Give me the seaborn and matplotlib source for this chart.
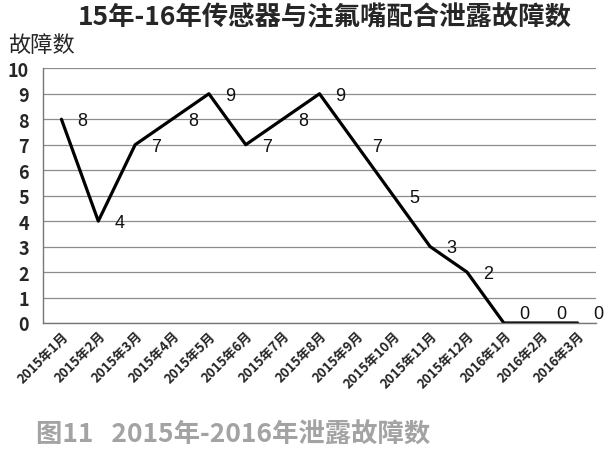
import matplotlib.pyplot as plt
import matplotlib.ticker as mticker
import seaborn as sns
import pandas as pd
import numpy as np

months = [
    "2015年1月", "2015年2月", "2015年3月", "2015年4月", "2015年5月",
    "2015年6月", "2015年7月", "2015年8月", "2015年9月", "2015年10月",
    "2015年11月", "2015年12月", "2016年1月", "2016年2月", "2016年3月",
]
faults = [8, 4, 7, 8, 9, 7, 8, 9, 7, 5, 3, 2, 0, 0, 0]

sns.set_style("white")
plt.rcParams["font.family"] = ["Noto Sans CJK SC", "DejaVu Sans"]

df = pd.DataFrame({"idx": np.arange(len(months)), "month": months, "faults": faults})

fig = plt.figure(figsize=(6.09, 4.56), dpi=100)
ax = fig.add_axes([43 / 609, 1 - 324 / 456, (596 - 43) / 609, (324 - 69.3) / 456])

sns.lineplot(data=df, x="idx", y="faults", color="black", linewidth=2.3, ax=ax)

# 数据标签
for i, v in zip(df["idx"], df["faults"]):
    dy = 7 if v == 0 else -1
    ax.annotate(str(v), (i, v), xytext=(15, dy), textcoords="offset points",
                ha="center", va="center", fontsize=13, color="#111111",
                family=["Liberation Sans", "DejaVu Sans"], annotation_clip=False)

ax.set_ylim(0, 10)
ax.set_xlim(-0.5, len(months) - 0.5)
ax.set_yticks(range(0, 11))
ax.yaxis.grid(True, color="#8c8c8c", linewidth=0.9)
ax.set_axisbelow(True)

# 刻度在类别之间，标签在类别中心
ax.xaxis.set_major_locator(mticker.FixedLocator(np.arange(-0.5, len(months), 1)))
ax.xaxis.set_major_formatter(mticker.NullFormatter())
ax.xaxis.set_minor_locator(mticker.FixedLocator(df["idx"]))
ax.xaxis.set_minor_formatter(mticker.FixedFormatter(months))
ax.tick_params(axis="x", which="major", length=5, width=1, color="#777777", direction="out")
ax.tick_params(axis="x", which="minor", length=0, pad=4)
for lab in ax.get_xticklabels(minor=True):
    lab.set_rotation(45)
    lab.set_ha("right")
    lab.set_rotation_mode("anchor")
    lab.set_fontsize(9.5)
    lab.set_fontweight("bold")
ax.tick_params(axis="y", length=5, width=1, color="#777777", direction="out", pad=5)
for lab in ax.get_yticklabels():
    lab.set_fontsize(13)
    lab.set_fontweight("bold")

for side in ["top", "right"]:
    ax.spines[side].set_visible(False)
for side in ["left", "bottom"]:
    ax.spines[side].set_color("#777777")
    ax.spines[side].set_linewidth(1)

ax.set_xlabel("")
ax.set_ylabel("")

fig.text(325 / 609, 1 - 18 / 456, "15年-16年传感器与注氟嘴配合泄露故障数",
         ha="center", va="center", fontsize=19, fontweight="bold")
fig.text(8 / 609, 1 - 45 / 456, "故障数", ha="left", va="center", fontsize=16)
fig.text(36 / 609, 1 - 435 / 456, "图11   2015年-2016年泄露故障数",
         ha="left", va="center", fontsize=19, fontweight="bold", color="#a3a3a3")

fig.savefig("out.png", dpi=100)
